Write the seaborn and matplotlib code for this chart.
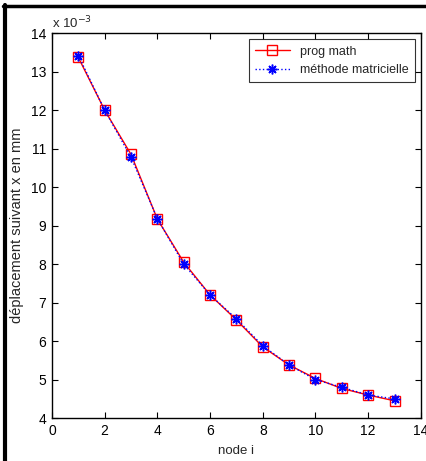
import numpy as np
import pandas as pd
import matplotlib
matplotlib.use('Agg')
import matplotlib.pyplot as plt
import seaborn as sns
from matplotlib.lines import Line2D

# valeurs (x 10^-3 mm)
noeuds = [1, 2, 3, 4, 5, 6, 7, 8, 9, 10, 11, 12, 13]
prog_math = [13.37, 12.0, 10.85, 9.17, 8.05, 7.2, 6.55, 5.85, 5.38, 5.03, 4.77, 4.6, 4.45]
methode_mat = [13.42, 12.0, 10.78, 9.18, 8.0, 7.2, 6.58, 5.88, 5.38, 5.0, 4.8, 4.6, 4.5]

data = pd.DataFrame({'node': noeuds, 'prog': prog_math, 'mat': methode_mat})

sns.set_style("white")
plt.rcParams['font.family'] = ['Liberation Sans', 'DejaVu Sans']

fig = plt.figure(figsize=(4.26, 4.61), dpi=100)
ax = fig.add_axes([0.122, 0.093, 0.866, 0.835])

sns.lineplot(x='node', y='prog', data=data, ax=ax, color='red', linewidth=1,
             marker='s', markersize=6.5, markerfacecolor='none', markeredgecolor='red',
             markeredgewidth=1, label='prog math')
sns.lineplot(x='node', y='mat', data=data, ax=ax, color='blue', linewidth=1,
             linestyle=':', marker=(8, 2, 0), markersize=7, markeredgecolor='blue',
             markeredgewidth=1.1, label='méthode matricielle')

ax.set_xlim(0, 14)
ax.set_ylim(4, 14)
ax.set_xticks(range(0, 15, 2))
ax.set_yticks(range(4, 15))
ax.tick_params(direction='in', length=4, labelsize=10, top=True, right=True,
               bottom=True, left=True, colors='black', pad=4)
for s in ax.spines.values():
    s.set_color('black')
    s.set_linewidth(1)
ax.set_xlabel('node i', fontsize=9.5, labelpad=5)
ax.set_ylabel('déplacement suivant x en mm', fontsize=10.5, labelpad=5)
ax.text(0.0, 1.005, r'x 10$^{-3}$', transform=ax.transAxes, fontsize=9.5,
        ha='left', va='bottom')

leg = ax.legend(loc='upper right', fontsize=9, frameon=True, fancybox=False,
                borderaxespad=0.5, handlelength=2.8, borderpad=0.5)
leg.get_frame().set_edgecolor('black')
leg.get_frame().set_linewidth(0.8)

# cadre noir autour de l'image
fig.add_artist(Line2D([0.011, 0.011], [0, 0.99], transform=fig.transFigure,
                      color='black', linewidth=3))
fig.add_artist(Line2D([0.008, 1.0], [0.986, 0.986], transform=fig.transFigure,
                      color='black', linewidth=2.5))

fig.savefig('out.png', dpi=100)
